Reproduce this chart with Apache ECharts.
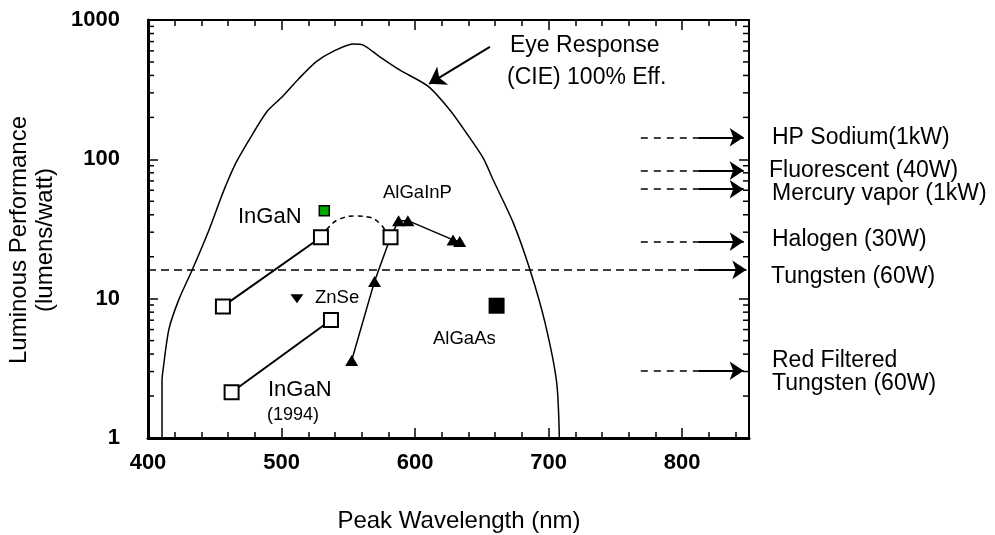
<!DOCTYPE html>
<html>
<head>
<meta charset="utf-8">
<script src="https://cdn.jsdelivr.net/npm/echarts@6/dist/echarts.min.js"></script>
<style>
	html, body { margin: 0; padding: 0; background: #fff; }
	#chart { width: 995px; height: 535px; }
</style>
</head>
<body>
<div id="chart"></div>
<script>
// eye response (CIE photopic curve at 100% efficiency), [nm, lm/W]
const eyeCurve = [
	[ 410.5, 1 ], [ 410.5, 2.6 ], [ 411.3, 3.1 ], [ 415.6, 6 ], [ 423, 9.8 ], [ 433, 16 ],
	[ 445.6, 31 ], [ 454, 51 ], [ 458, 64 ], [ 465.7, 94 ], [ 478, 150 ], [ 489.4, 222 ],
	[ 500.7, 282 ], [ 513.2, 382 ], [ 526, 503 ], [ 538.3, 593 ], [ 553.3, 673 ], [ 560.8, 663 ],
	[ 573.3, 546 ], [ 588.4, 438 ], [ 609.6, 335 ], [ 626, 226 ], [ 638.5, 154 ], [ 651, 102 ],
	[ 658.5, 71 ], [ 673.5, 35 ], [ 686, 16.1 ], [ 697.3, 6.7 ], [ 706, 2.5 ], [ 708, 1 ]
];

const inGaN = [ [ 456.1, 8.8 ], [ 529.5, 27.6 ] ];
const inGaNArc = [
	[ 529.5, 27.6 ], [ 535.8, 32.9 ], [ 543.3, 37.2 ], [ 555.8, 39.2 ], [ 565.8, 38.4 ],
	[ 573.3, 34.8 ], [ 578.3, 30.3 ], [ 581.6, 27.6 ]
];
const inGaNYellow = [ [ 581.6, 27.6 ] ];
const inGaN1994 = [ [ 462.6, 2.13 ], [ 537, 7.03 ] ];
const inGaNGreen = [ [ 532, 42.8 ] ];
const znSe = [ [ 511.5, 10 ] ];
const alGaInP = [ [ 552.5, 3.6 ], [ 569.6, 13.3 ], [ 587.6, 36.3 ], [ 594.6, 36.3 ], [ 628.4, 26.4 ], [ 633.4, 25.7 ] ];
const alGaAs = [ [ 661, 8.9 ] ];

// lamps shown as arrows at the right edge
const lampNames = [ 'HP Sodium(1kW)', 'Fluorescent (40W)', 'Mercury vapor (1kW)', 'Halogen (30W)', 'Red Filtered\nTungsten (60W)' ];
const lampEfficacy = [ 144, 83, 61, 25.7, 3.04 ];
const tungstenEfficacy = 16.1;
const lampDashFrom = 769;
const lampArrowFrom = 812;
const lampArrowTo = 846;

const eyeArrow = [ [ 656, 641 ], [ 610.4, 348 ] ];

const xMin = 400;
const xMax = 850;
const yMinorTicks = [ 2, 3, 4, 5, 6, 7, 8, 9, 20, 30, 40, 50, 60, 70, 80, 90, 200, 300, 400, 500, 600, 700, 800, 900 ];

const FONT = '"Liberation Sans", Arial, Helvetica, sans-serif';

const luminousChart = {
	chart: null,

	init: function () {
		this.chart = echarts.init( document.getElementById( 'chart' ), null, { renderer: 'canvas' } );
		this.chart.setOption( {
			animation: false,
			backgroundColor: '#fff',
			grid: { left: 148, right: 246, top: 20, bottom: 97, containLabel: false },
			xAxis: this.buildXAxes(),
			yAxis: this.buildYAxes(),
			series: this.buildSeries(),
			graphic: this.buildTexts()
		} );
	},

	xAxis: function ( position, interval, tickLength, lineWidth, showLabel ) {
		return {
			type: 'value',
			min: xMin,
			max: xMax,
			interval: interval,
			position: position,
			axisLine: { show: lineWidth > 0, onZero: false, lineStyle: { color: '#000', width: lineWidth } },
			axisTick: { inside: true, length: tickLength, lineStyle: { color: '#000', width: 1.5 } },
			axisLabel: {
				show: showLabel,
				margin: 14,
				color: '#000',
				fontFamily: FONT,
				fontWeight: 'bold',
				fontSize: 22,
				formatter: ( v ) => ( v % 100 === 0 && v <= 800 ? String( v ) : '' )
			},
			splitLine: { show: false }
		};
	},

	buildXAxes: function () {
		return [
			this.xAxis( 'bottom', 100, 10, 3, true ),
			this.xAxis( 'bottom', 20, 6, 0, false ),
			this.xAxis( 'top', 100, 10, 2, false ),
			this.xAxis( 'top', 20, 6, 0, false )
		];
	},

	buildYAxes: function () {
		const base = {
			type: 'log',
			logBase: 10,
			min: 1,
			max: 1000,
			splitLine: { show: false },
			axisTick: { inside: true, length: 10, lineStyle: { color: '#000', width: 1.5 } }
		};
		return [
			Object.assign( {}, base, {
				position: 'left',
				axisLine: { onZero: false, lineStyle: { color: '#000', width: 3 } },
				axisLabel: {
					margin: 28,
					color: '#000',
					fontFamily: FONT,
					fontWeight: 'bold',
					fontSize: 22,
					formatter: ( v ) => String( Math.round( v ) )
				}
			} ),
			Object.assign( {}, base, {
				position: 'right',
				axisLine: { onZero: false, lineStyle: { color: '#000', width: 2 } },
				axisLabel: { show: false }
			} )
		];
	},

	openSquare: function ( data ) {
		return {
			type: 'line',
			data: data,
			symbol: 'rect',
			symbolSize: 14,
			itemStyle: { color: '#fff', borderColor: '#000', borderWidth: 2, opacity: 1 },
			lineStyle: { color: '#000', width: 2 },
			z: 5
		};
	},

	buildSeries: function () {
		const lampDash = lampEfficacy.map( ( v ) => ( { coords: [ [ lampDashFrom, v ], [ lampArrowFrom, v ] ] } ) );
		const lampSolid = lampEfficacy.map( ( v ) => ( { coords: [ [ lampArrowFrom, v ], [ lampArrowTo, v ] ] } ) );
		lampSolid.push( { coords: [ [ lampArrowFrom, tungstenEfficacy ], [ lampArrowTo + 2, tungstenEfficacy ] ] } );

		return [
			{
				// minor ticks of the log axes, both sides
				type: 'custom',
				data: yMinorTicks.map( ( v ) => [ xMin, v ] ),
				renderItem: function ( params, api ) {
					const v = api.value( 1 );
					const pl = api.coord( [ xMin, v ] );
					const pr = api.coord( [ xMax, v ] );
					const style = { stroke: '#000', lineWidth: 1.5 };
					return {
						type: 'group',
						children: [
							{ type: 'line', shape: { x1: pl[ 0 ], y1: pl[ 1 ], x2: pl[ 0 ] + 6, y2: pl[ 1 ] }, style: style },
							{ type: 'line', shape: { x1: pr[ 0 ], y1: pr[ 1 ], x2: pr[ 0 ] - 6, y2: pr[ 1 ] }, style: style }
						]
					};
				},
				silent: true,
				z: 1
			},
			{
				type: 'line',
				data: eyeCurve,
				symbol: 'none',
				smooth: 0.25,
				lineStyle: { color: '#000', width: 1.5 },
				z: 2
			},
			{
				type: 'lines',
				coordinateSystem: 'cartesian2d',
				data: [ { coords: [ [ xMin, tungstenEfficacy ], [ lampArrowFrom, tungstenEfficacy ] ] } ],
				lineStyle: { color: '#000', width: 1.5, type: [ 8, 5 ], opacity: 1 },
				symbol: 'none',
				z: 2
			},
			{
				type: 'lines',
				coordinateSystem: 'cartesian2d',
				data: lampDash,
				lineStyle: { color: '#000', width: 1.5, type: [ 7, 6 ], opacity: 1 },
				symbol: 'none',
				z: 2
			},
			{
				type: 'lines',
				coordinateSystem: 'cartesian2d',
				data: lampSolid,
				lineStyle: { color: '#000', width: 2, type: 'solid', opacity: 1 },
				symbol: [ 'none', 'arrow' ],
				symbolSize: [ 0, 14 ],
				z: 3
			},
			{
				type: 'lines',
				coordinateSystem: 'cartesian2d',
				data: [ { coords: eyeArrow } ],
				lineStyle: { color: '#000', width: 2, type: 'solid', opacity: 1 },
				symbol: [ 'none', 'arrow' ],
				symbolSize: [ 0, 16 ],
				z: 3
			},
			{
				type: 'line',
				data: inGaNArc,
				symbol: 'none',
				smooth: 0.5,
				lineStyle: { color: '#000', width: 1.5, type: [ 5, 4 ] },
				z: 3
			},
			{
				type: 'line',
				data: alGaInP.slice( 0, 2 ).concat( inGaNYellow, alGaInP.slice( 2 ) ),
				symbol: ( val ) => ( val[ 0 ] === inGaNYellow[ 0 ][ 0 ] ? 'none' : 'triangle' ),
				symbolSize: [ 13, 11 ],
				itemStyle: { color: '#000', opacity: 1 },
				lineStyle: { color: '#000', width: 1.5 },
				z: 4
			},
			this.openSquare( inGaN ),
			this.openSquare( inGaN1994 ),
			Object.assign( this.openSquare( inGaNYellow ), { type: 'scatter' } ),
			{
				type: 'scatter',
				data: inGaNGreen,
				symbol: 'rect',
				symbolSize: 10,
				itemStyle: { color: '#00a800', borderColor: '#000', borderWidth: 1.5, opacity: 1 },
				z: 5
			},
			{
				type: 'scatter',
				data: znSe,
				symbol: 'triangle',
				symbolRotate: 180,
				symbolSize: [ 13, 9 ],
				itemStyle: { color: '#000', opacity: 1 },
				z: 5
			},
			{
				type: 'scatter',
				data: alGaAs,
				symbol: 'rect',
				symbolSize: 16,
				itemStyle: { color: '#000', opacity: 1 },
				z: 5
			}
		];
	},

	text: function ( str, x, y, size, extra ) {
		return Object.assign( {
			type: 'text',
			x: x,
			y: y,
			style: {
				text: str,
				fontFamily: FONT,
				fontSize: size,
				fill: '#000',
				verticalAlign: 'middle',
				align: 'left'
			},
			z: 10
		}, extra || {} );
	},

	buildTexts: function () {
		const texts = [
			this.text( 'Eye Response', 510, 46, 23 ),
			this.text( '(CIE) 100% Eff.', 507, 78, 23 ),
			this.text( 'InGaN', 238, 217, 22 ),
			this.text( 'ZnSe', 315, 298, 18.5 ),
			this.text( 'InGaN', 268, 390, 22 ),
			this.text( '(1994)', 267, 415, 18 ),
			this.text( 'AlGaInP', 383, 193, 18.5 ),
			this.text( 'AlGaAs', 433, 339, 18.5 ),
			this.text( 'Tungsten (60W)', 771, 277, 23 )
		];
		const lampLabelY = [ 138, 171, 194, 240, 372 ];
		const lampLabelX = [ 772, 769, 772, 772, 772 ];
		lampNames.forEach( ( name, i ) => {
			const t = this.text( name, lampLabelX[ i ], lampLabelY[ i ], 23 );
			t.style.lineHeight = 23;
			texts.push( t );
		} );

		// axis names
		const xName = this.text( 'Peak Wavelength (nm)', 459, 521, 24 );
		xName.style.align = 'center';
		texts.push( xName );

		const yName = this.text( 'Luminous Performance\n(lumens/watt)', 32, 240, 24 );
		yName.style.align = 'center';
		yName.style.lineHeight = 26;
		yName.rotation = Math.PI / 2;
		texts.push( yName );

		return texts;
	}
};

luminousChart.init();
</script>
</body>
</html>
